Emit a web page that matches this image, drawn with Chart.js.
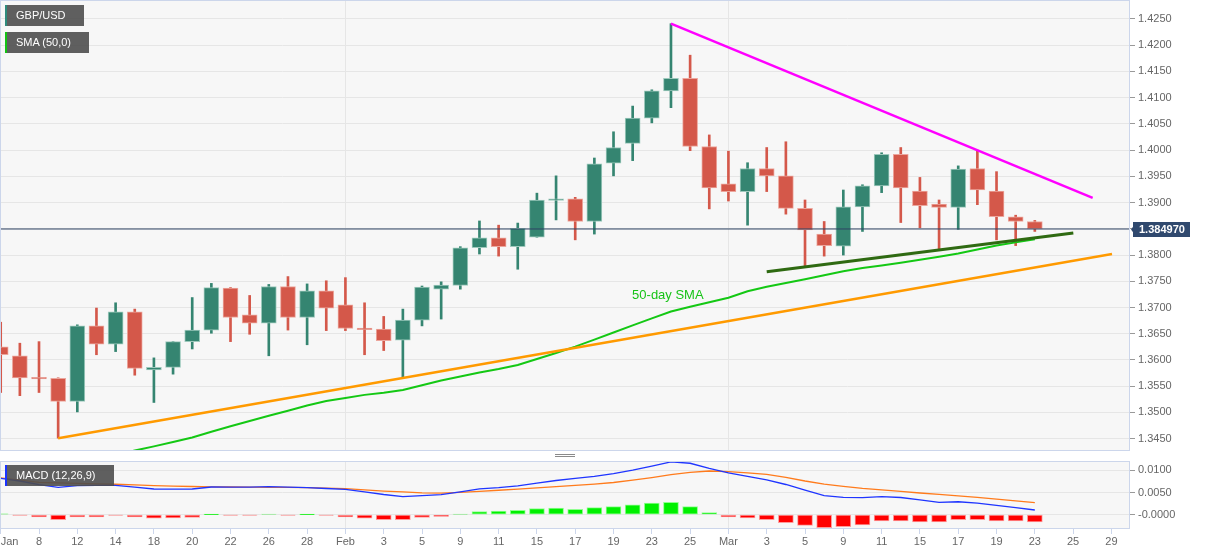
<!DOCTYPE html>
<html><head><meta charset="utf-8">
<script src="https://cdn.jsdelivr.net/npm/chart.js@4.4.1/dist/chart.umd.min.js"></script>
<style>
html,body{margin:0;padding:0;background:#fff;}
#wrap{position:relative;width:1207px;height:555px;overflow:hidden;font-family:"Liberation Sans",Arial,sans-serif;}
#main{position:absolute;left:0;top:0;}
#macd{position:absolute;left:0;top:455px;}
.tag{position:absolute;left:5px;height:21px;line-height:21px;background:rgba(78,78,78,0.9);color:#fff;font-size:11px;padding:0 0 0 11px;box-sizing:border-box;white-space:nowrap;}
.tag i{position:absolute;left:0;top:0;bottom:0;width:2px;}
.handle{position:absolute;left:555px;width:20px;height:1px;background:#8a8a8a;}
</style></head><body>
<div id="wrap">
<canvas id="main" width="1207" height="455"></canvas>
<canvas id="macd" width="1207" height="100"></canvas>
<div class="tag" style="top:5px;width:79px"><i style="background:#2e8b7c"></i>GBP/USD</div>
<div class="tag" style="top:32px;width:84px"><i style="background:#13c313"></i>SMA (50,0)</div>
<div class="tag" style="top:465px;width:109px"><i style="background:#1a33ff"></i>MACD (12,26,9)</div>
<div class="handle" style="top:454px"></div>
<div class="handle" style="top:456px"></div>
</div>
<script>
// ---------- data ----------
const days = ['Jan 6','Jan 7','Jan 8','Jan 11','Jan 12','Jan 13','Jan 14','Jan 15','Jan 18','Jan 19','Jan 20','Jan 21','Jan 22','Jan 25','Jan 26','Jan 27','Jan 28','Jan 29',
 'Feb 1','Feb 2','Feb 3','Feb 4','Feb 5','Feb 8','Feb 9','Feb 10','Feb 11','Feb 12','Feb 15','Feb 16','Feb 17','Feb 18','Feb 19','Feb 22','Feb 23','Feb 24','Feb 25','Feb 26',
 'Mar 1','Mar 2','Mar 3','Mar 4','Mar 5','Mar 8','Mar 9','Mar 10','Mar 11','Mar 12','Mar 15','Mar 16','Mar 17','Mar 18','Mar 19','Mar 22','Mar 23'];
const open  = [1.3625,1.3608,1.3566,1.3565,1.3521,1.3665,1.3630,1.3692,1.3581,1.3586,1.3635,1.3657,1.3737,1.3686,1.3670,1.3740,1.3681,1.3732,
 1.3705,1.3660,1.3659,1.3638,1.3676,1.3735,1.3742,1.3814,1.3833,1.3816,1.3834,1.3904,1.3907,1.3864,1.3975,1.4013,1.4061,1.4113,1.4137,1.4007,
 1.3936,1.3921,1.3965,1.3951,1.3889,1.3840,1.3817,1.3892,1.3932,1.3992,1.3922,1.3897,1.3891,1.3965,1.3922,1.3873,1.3864];
const high  = [1.3672,1.3632,1.3635,1.3566,1.3667,1.3699,1.3709,1.3697,1.3604,1.3635,1.3719,1.3746,1.3738,1.3723,1.3744,1.3759,1.3745,1.3751,
 1.3757,1.3709,1.3683,1.3697,1.3741,1.3749,1.3816,1.3865,1.3857,1.3861,1.3918,1.3951,1.3910,1.3985,1.4035,1.4084,1.4115,1.4241,1.4181,1.4029,
 1.3998,1.3976,1.4005,1.4016,1.3905,1.3864,1.3924,1.3934,1.3995,1.4005,1.3948,1.3905,1.3970,1.4000,1.3959,1.3876,1.3866];
const low   = [1.3538,1.3532,1.3538,1.3451,1.3501,1.3610,1.3616,1.3571,1.3519,1.3573,1.3621,1.3651,1.3635,1.3649,1.3608,1.3657,1.3629,1.3656,
 1.3656,1.3610,1.3618,1.3566,1.3665,1.3678,1.3735,1.3802,1.3798,1.3773,1.3834,1.3867,1.3829,1.3840,1.3951,1.3980,1.4052,1.4081,1.3999,1.3888,
 1.3903,1.3857,1.3921,1.3878,1.3778,1.3798,1.3800,1.3845,1.3919,1.3862,1.3852,1.3810,1.3849,1.3896,1.3829,1.3818,1.3845];
const close = [1.3610,1.3566,1.3564,1.3521,1.3665,1.3630,1.3692,1.3584,1.3586,1.3635,1.3657,1.3738,1.3681,1.3670,1.3740,1.3681,1.3732,1.3699,
 1.3660,1.3658,1.3637,1.3676,1.3739,1.3743,1.3814,1.3833,1.3816,1.3851,1.3905,1.3907,1.3864,1.3974,1.4005,1.4061,1.4113,1.4137,1.4007,1.3928,
 1.3921,1.3965,1.3951,1.3889,1.3848,1.3818,1.3892,1.3932,1.3992,1.3928,1.3894,1.3891,1.3964,1.3924,1.3873,1.3864,1.38497];
const sma50 = [null,null,null,null,null,null,1.34191,1.34273,1.34353,1.34435,1.34521,1.34633,1.34736,1.34837,1.34936,1.35033,1.35131,1.35218,
 1.35275,1.35335,1.35377,1.35428,1.35519,1.35607,1.35685,1.35763,1.35830,1.35906,1.36019,1.36133,1.36255,1.36389,1.36524,1.36659,1.36793,1.36924,1.37014,1.37102,
 1.37187,1.37309,1.37397,1.37468,1.37538,1.37616,1.37693,1.37752,1.37803,1.37855,1.37910,1.37967,1.38030,1.38106,1.38183,1.38242,1.38301];
const macdLine = [.00818,.00759,.00676,.00617,.00653,.00662,.00658,.00622,.00579,.00574,.00579,.00624,.00619,.00622,.00631,.00619,.00610,.00590,
 .00572,.00516,.00455,.00408,.00428,.00453,.00516,.00581,.00608,.00651,.00709,.00770,.00818,.00865,.00923,.01002,.01092,.01189,.01158,.01043,
 .00941,.00863,.00784,.00680,.00556,.00430,.00390,.00383,.00405,.00387,.00333,.00279,.00291,.00259,.00209,.00158,.00106];
const signalLine = [.00831,.00777,.00727,.00716,.00705,.00696,.00685,.00671,.00655,.00642,.00635,.00628,.00624,.00619,.00615,.00613,.00608,.00597,
 .00586,.00559,.00532,.00514,.00493,.00484,.00502,.00527,.00550,.00577,.00604,.00633,.00660,.00689,.00725,.00777,.00836,.00903,.00953,.00984,
 .00971,.00941,.00908,.00842,.00759,.00689,.00640,.00592,.00559,.00523,.00489,.00457,.00423,.00390,.00351,.00311,.00270];
const histogram = [0.0002,-0.0001,-0.0005,-0.0011,-0.0005,-0.0005,-0.0001,-0.0005,-0.0008,-0.0007,-0.0006,0.00002,-0.0001,-0.0001,0.0001,-0.0001,0.00002,-0.0001,
 -0.0005,-0.0008,-0.0011,-0.0011,-0.0006,-0.0004,0.0001,0.0007,0.0008,0.0010,0.0014,0.0015,0.0012,0.0016,0.0018,0.0022,0.0026,0.0028,0.0018,0.0005,
 -0.0005,-0.0007,-0.0011,-0.0018,-0.0024,-0.0029,-0.0027,-0.0023,-0.0014,-0.0014,-0.0016,-0.0016,-0.0011,-0.0011,-0.0014,-0.0014,-0.0016];
// x-axis labels, one every 2nd trading day starting at the first day
const axisLabels = ['Jan','8','12','14','18','20','22','26','28','Feb','3','5','9','11','15','17','19','23','25','Mar','3','5','9','11','15','17','19','23','25','29'];
const priceTicks = ['1.3450','1.3500','1.3550','1.3600','1.3650','1.3700','1.3750','1.3800','1.3850','1.3900','1.3950','1.4000','1.4050','1.4100','1.4150','1.4200','1.4250'];
const macdTicks = ['-0.0000','0.0050','0.0100'];
const lastPrice = 1.38497;
// trend lines (trading-day index, price)
const supportTrend = [[3, 1.3451], [58.03, 1.3802]];
const resistTrend = [[35, 1.4241], [57.02, 1.3909]];
const triangleTrend = [[40, 1.3768], [56.01, 1.3842]];
const smaLabel = {text: '50-day SMA', at: [32.97, 1.3724]};

// ---------- chart ----------
const FAMILY = '"Liberation Sans", Arial, sans-serif';
Chart.defaults.font.family = FAMILY;
Chart.defaults.color = '#666';
const X_MIN = -0.037, X_MAX = 58.97;
const UP = '#358571', DOWN = '#d4584a', UP_B = '#9dc9bc', DOWN_B = '#eca69d';
const isUp = i => close[i] >= open[i];
const monthIdx = axisLabels.map((l, k) => isNaN(+l) && k > 0 ? k * 2 : null).filter(v => v !== null);
const toPts = arr => arr.map(p => ({x: p[0], y: p[1]}));

const panelPlugin = {
  id: 'panel',
  beforeDraw(chart) {
    const {ctx, chartArea: a} = chart;
    ctx.save(); ctx.fillStyle = '#f7f7f7';
    ctx.fillRect(a.left, a.top, a.right - a.left, a.bottom - a.top); ctx.restore();
  },
  afterDraw(chart) {
    const {ctx, chartArea: a} = chart;
    ctx.save(); ctx.strokeStyle = '#ccd6eb'; ctx.lineWidth = 1;
    ctx.strokeRect(a.left + 0.5, a.top + 0.5, a.right - a.left - 1, a.bottom - a.top - 1);
    ctx.restore();
  }
};
const notesPlugin = {
  id: 'notes',
  afterDraw(chart) {
    const {ctx, scales: {x, y}, chartArea: a} = chart;
    ctx.save();
    ctx.font = '13px ' + FAMILY; ctx.fillStyle = '#17c317';
    ctx.textBaseline = 'middle'; ctx.textAlign = 'left';
    ctx.fillText(smaLabel.text, x.getPixelForValue(smaLabel.at[0]), y.getPixelForValue(smaLabel.at[1]));
    const py = Math.round(y.getPixelForValue(lastPrice));
    ctx.fillStyle = '#30496e';
    ctx.beginPath(); ctx.moveTo(a.right + 1, py + 0.5); ctx.lineTo(a.right + 4, py - 3.5); ctx.lineTo(a.right + 4, py + 4.5); ctx.closePath(); ctx.fill();
    ctx.fillRect(a.right + 3, py - 7, 57, 15);
    ctx.fillStyle = '#fff'; ctx.font = 'bold 11px ' + FAMILY;
    ctx.fillText(lastPrice.toFixed(6), a.right + 9, py + 1);
    ctx.restore();
  }
};

const tickFont = {family: FAMILY, size: 11};

new Chart(document.getElementById('main'), {
  type: 'bar',
  data: {
    datasets: [
      {type: 'line', data: [{x: X_MIN - 1, y: lastPrice}, {x: X_MAX + 1, y: lastPrice}], borderColor: '#2d4263', borderWidth: 1, pointRadius: 0, order: 0},
      {type: 'line', data: toPts(resistTrend), borderColor: '#ff00ff', borderWidth: 2.5, pointRadius: 0, order: 1},
      {type: 'line', data: toPts(triangleTrend), borderColor: '#2f6a12', borderWidth: 3, pointRadius: 0, order: 1},
      {type: 'line', data: toPts(supportTrend), borderColor: '#ff9a00', borderWidth: 2.5, pointRadius: 0, order: 1},
      {type: 'line', data: sma50.map((v, i) => ({x: i, y: v})), borderColor: '#14c814', borderWidth: 2, pointRadius: 0, order: 2},
      {data: days.map((d, i) => ({x: i, y: [open[i], close[i]]})), barThickness: 15, minBarLength: 1.5, grouped: false,
       backgroundColor: ctx => isUp(ctx.dataIndex) ? UP : DOWN,
       borderColor: ctx => isUp(ctx.dataIndex) ? UP_B : DOWN_B, borderWidth: 1, borderSkipped: false, order: 5},
      {data: days.map((d, i) => ({x: i, y: [low[i], high[i]]})), barThickness: 2, grouped: false,
       backgroundColor: ctx => isUp(ctx.dataIndex) ? UP : DOWN, borderWidth: 0, order: 6}
    ]
  },
  options: {
    responsive: false, animation: false, events: [],
    layout: {padding: {left: 0, top: 0, right: 0, bottom: 4}},
    plugins: {legend: {display: false}, tooltip: {enabled: false}},
    scales: {
      x: {type: 'linear', min: X_MIN, max: X_MAX, offset: false,
        afterBuildTicks: s => { s.ticks = monthIdx.map(v => ({value: v})); },
        ticks: {display: false},
        grid: {color: '#e6e6e6', drawTicks: false, offset: false},
        border: {display: false},
        afterFit: s => { s.height = 0; s.paddingLeft = 0; s.paddingRight = 0; }
      },
      y: {type: 'linear', position: 'right', min: 1.34265, max: 1.42862,
        afterBuildTicks: s => { s.ticks = priceTicks.map(t => ({value: parseFloat(t)})); },
        ticks: {callback: v => v.toFixed(4), color: '#666', font: tickFont, padding: 3},
        grid: {color: '#e6e6e6', tickLength: 5, tickColor: '#999'},
        border: {display: false},
        afterFit: s => { s.width = 77; s.paddingTop = 0; s.paddingBottom = 0; }
      }
    }
  },
  plugins: [panelPlugin, notesPlugin]
});

new Chart(document.getElementById('macd'), {
  type: 'bar',
  data: {
    datasets: [
      {type: 'line', data: signalLine.map((v, i) => ({x: i, y: v})), borderColor: '#ff7b1c', borderWidth: 1.3, pointRadius: 0, order: 1},
      {type: 'line', data: macdLine.map((v, i) => ({x: i, y: v})), borderColor: '#1f35ff', borderWidth: 1.3, pointRadius: 0, order: 0},
      {data: histogram.map((v, i) => ({x: i, y: v})), barThickness: 15, grouped: false,
       backgroundColor: ctx => histogram[ctx.dataIndex] >= 0 ? '#00f000' : '#ff0000',
       borderColor: ctx => histogram[ctx.dataIndex] >= 0 ? '#90ff90' : '#ff9a9a', borderWidth: 1, borderSkipped: false, order: 3}
    ]
  },
  options: {
    responsive: false, animation: false, events: [],
    layout: {padding: {left: 0, top: 6, right: 0, bottom: 0}},
    plugins: {legend: {display: false}, tooltip: {enabled: false}},
    scales: {
      x: {type: 'linear', min: X_MIN, max: X_MAX, offset: false,
        afterBuildTicks: s => { s.ticks = axisLabels.map((l, k) => ({value: k * 2})).concat([{value: X_MAX}]); },
        ticks: {autoSkip: false, maxRotation: 0, align: 'inner', padding: 1, color: '#666', font: tickFont,
          callback: v => { const k = v / 2; return Number.isInteger(k) && axisLabels[k] !== undefined ? axisLabels[k] : ''; }},
        grid: {offset: false, color: ctx => monthIdx.includes(ctx.tick && ctx.tick.value) ? '#e6e6e6' : 'rgba(0,0,0,0)',
          tickColor: ctx => (ctx.tick && ctx.tick.value === X_MAX) ? 'rgba(0,0,0,0)' : '#ccd6eb', tickLength: 5},
        border: {display: false},
        afterFit: s => { s.height = 26; s.paddingLeft = 0; s.paddingRight = 0; }
      },
      y: {type: 'linear', position: 'right', min: -0.00322, max: 0.01209,
        afterBuildTicks: s => { s.ticks = macdTicks.map(t => ({value: Math.abs(parseFloat(t))})); },
        ticks: {callback: v => v === 0 ? '-0.0000' : v.toFixed(4), color: '#666', font: tickFont, padding: 3},
        grid: {color: '#e6e6e6', tickLength: 5, tickColor: '#999'},
        border: {display: false},
        afterFit: s => { s.width = 77; s.paddingTop = 0; s.paddingBottom = 0; }
      }
    }
  },
  plugins: [panelPlugin]
});
</script>
</body></html>
